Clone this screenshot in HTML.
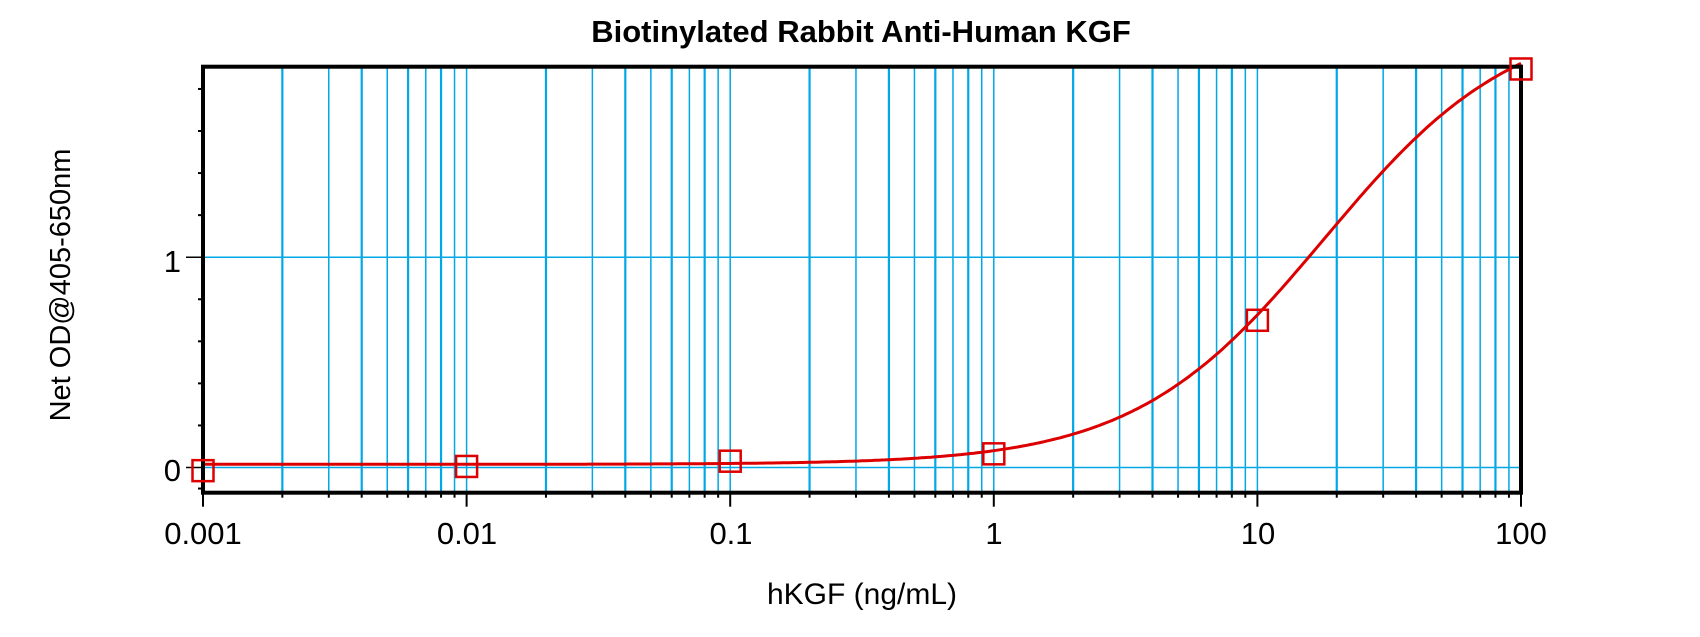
<!DOCTYPE html>
<html><head><meta charset="utf-8"><style>html,body{margin:0;padding:0;background:#fff}svg{display:block}</style></head>
<body>
<svg id="s" width="1700" height="637" xmlns="http://www.w3.org/2000/svg" font-family="Liberation Sans, Arial, sans-serif">
<g id="grid"></g>
<text x="861" y="42" font-size="31" font-weight="bold" text-anchor="middle">Biotinylated Rabbit Anti-Human KGF</text>
<text x="862" y="604" font-size="30" text-anchor="middle">hKGF (ng/mL)</text>
<text transform="translate(70,285) rotate(-90)" font-size="29" text-anchor="middle">Net OD@405-650nm</text>
<text x="181" y="272" font-size="31" text-anchor="end">1</text>
<text x="181" y="481" font-size="31" text-anchor="end">0</text>
<g font-size="31" text-anchor="middle">
<text x="203" y="544">0.001</text><text x="467" y="544">0.01</text><text x="731" y="544">0.1</text>
<text x="994" y="544">1</text><text x="1258" y="544">10</text><text x="1521" y="544">100</text>
</g>
</svg>
<script>
var L=203,R=1521,T=66.7,B=492.7,dec=263.6,y0=467.5,u=210.3;
function X(v){return L+(Math.log10(v)+3)*dec}
function Y(o){return y0-o*u}
var s='';
for(var e=-3;e<2;e++)for(var k=1;k<10;k++){if(e==-3&&k==1)continue;var x=X(k*Math.pow(10,e));
s+='<line x1="'+x+'" y1="'+T+'" x2="'+x+'" y2="'+B+'" stroke="#00a8e6" stroke-width="'+(k%2?1.5:2.2)+'"/>';
s+='<line x1="'+x+'" y1="'+B+'" x2="'+x+'" y2="'+(B+(k==1?14:5))+'" stroke="#000" stroke-width="2"/>';}
s+='<line x1="'+L+'" y1="'+B+'" x2="'+L+'" y2="'+(B+14)+'" stroke="#000" stroke-width="2"/>';
s+='<line x1="'+R+'" y1="'+B+'" x2="'+R+'" y2="'+(B+14)+'" stroke="#000" stroke-width="2"/>';
[0,1].forEach(function(o){s+='<line x1="'+L+'" y1="'+Y(o)+'" x2="'+R+'" y2="'+Y(o)+'" stroke="#00a8e6" stroke-width="1.5"/>';
s+='<line x1="'+(L-17)+'" y1="'+Y(o)+'" x2="'+L+'" y2="'+Y(o)+'" stroke="#000" stroke-width="1.5"/>';});
for(var o=-0.0;o<1.9;o+=0.2){if(Math.abs(o)<1e-6||Math.abs(o-1)<1e-6)continue;
s+='<line x1="'+(L-5)+'" y1="'+Y(o)+'" x2="'+L+'" y2="'+Y(o)+'" stroke="#000" stroke-width="2"/>';}
s+='<line x1="'+(L-5)+'" y1="'+Y(-0.1)+'" x2="'+L+'" y2="'+Y(-0.1)+'" stroke="#000" stroke-width="2"/>';
var p='';
for(var i=0;i<=400;i++){var v=Math.pow(10,-3+5*i/400);var od=0.015+2.15/(1+Math.pow(18/v,1.2));p+=(i?'L':'M')+X(v).toFixed(1)+' '+Y(od).toFixed(1);}
s+='<path d="'+p+'" fill="none" stroke="#dd0000" stroke-width="3"/>';
s+='<rect x="'+L+'" y="'+T+'" width="'+(R-L)+'" height="'+(B-T)+'" fill="none" stroke="#000" stroke-width="4"/>';
[[0.001,-0.015],[0.01,0.005],[0.1,0.03],[1,0.065],[10,0.70],[100,1.895]].forEach(function(d){
s+='<rect x="'+(X(d[0])-10.5)+'" y="'+(Y(d[1])-10.5)+'" width="21" height="21" fill="none" stroke="#dd0000" stroke-width="2.5"/>';});
document.getElementById('grid').innerHTML=s;
</script>
</body></html>
